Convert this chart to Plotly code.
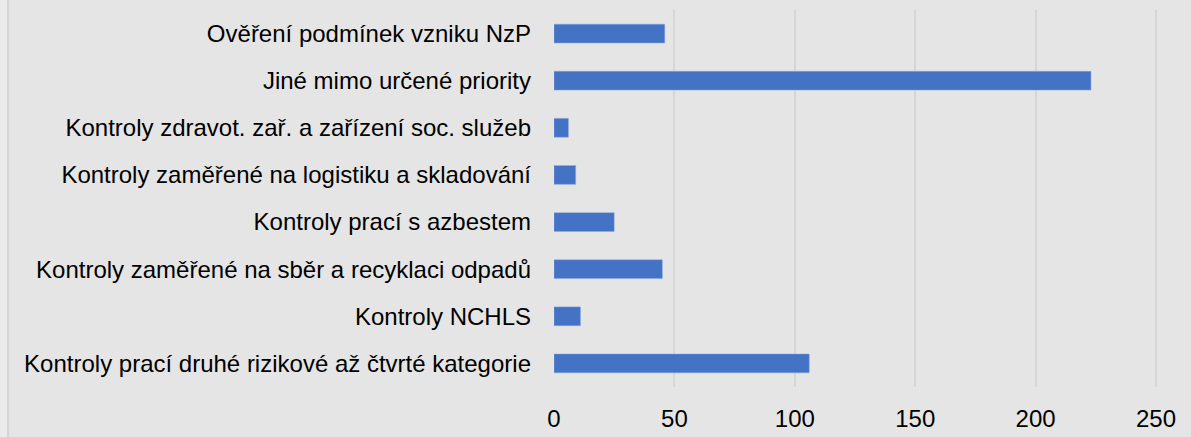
import plotly.graph_objects as go

categories = [
    "Kontroly prací druhé rizikové až čtvrté kategorie",
    "Kontroly NCHLS",
    "Kontroly zaměřené na sběr a recyklaci odpadů",
    "Kontroly prací s azbestem",
    "Kontroly zaměřené na logistiku a skladování",
    "Kontroly zdravot. zař. a zařízení soc. služeb",
    "Jiné mimo určené priority",
    "Ověření podmínek vzniku NzP",
]
values = [106, 11, 45, 25, 9, 6, 223, 46]
x_ticks = [0, 50, 100, 150, 200, 250]

L, R, T, B = 554, 33, 10, 50
PW = 1191 - L - R
PH = 437 - T - B

fig = go.Figure(
    go.Bar(
        y=categories,
        x=values,
        orientation="h",
        marker=dict(color="#4472c4", line=dict(color="#8faadc", width=0.5)),
        width=0.4,
    )
)

fig.update_layout(
    width=1191,
    height=437,
    margin=dict(l=L, r=R, t=T, b=B, autoexpand=False),
    paper_bgcolor="#e5e5e5",
    plot_bgcolor="#e5e5e5",
    font=dict(family="Liberation Sans, Arial", size=24, color="#000000"),
    showlegend=False,
)
fig.update_xaxes(
    range=[0, 250 * PW / 602],
    tickvals=x_ticks,
    showgrid=True,
    gridcolor="#d6d6d6",
    gridwidth=1.5,
    zeroline=False,
    showline=False,
    ticks="",
    automargin=False,
    ticklabelstandoff=15,
    tickfont=dict(size=24),
)
fig.update_yaxes(
    categoryorder="array",
    categoryarray=categories,
    showgrid=False,
    zeroline=False,
    showline=False,
    ticks="",
    automargin=False,
    ticklabelstandoff=22,
    tickfont=dict(size=24),
)

# left frame strip
fig.add_shape(type="rect", xref="paper", yref="paper", x0=-L / PW, x1=-(L - 8) / PW,
              y0=-B / PH, y1=1 + T / PH, fillcolor="#ebebeb", line_width=0, layer="below")
fig.add_shape(type="line", xref="paper", yref="paper", x0=-(L - 8) / PW, x1=-(L - 8) / PW,
              y0=-B / PH, y1=1 + T / PH, line=dict(color="#cfcfcf", width=1.5))

fig.write_html(
    "out.html",
    config={"displayModeBar": False},
    post_script="document.body.style.margin='0';document.body.style.overflow='hidden';",
)
